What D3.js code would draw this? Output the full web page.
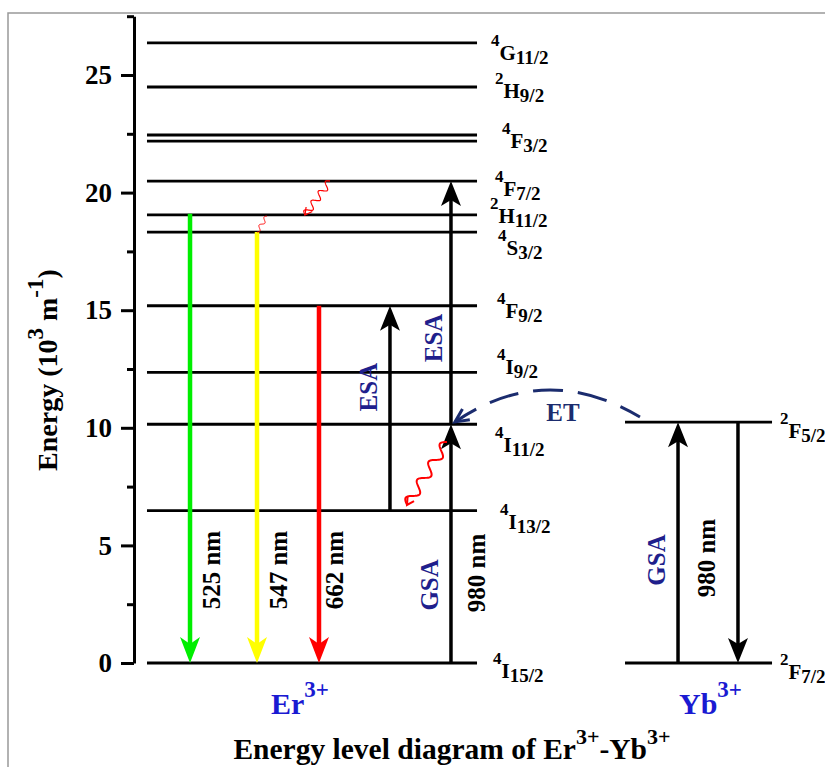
<!DOCTYPE html>
<html>
<head>
<meta charset="utf-8">
<script src="https://cdn.jsdelivr.net/npm/d3@7"></script>
<style>
  body { margin: 0; background: #fff; }
  svg { display: block; }
</style>
</head>
<body>
<svg id="chart" width="825" height="767"></svg>
<script>
// Er3+ levels: [multiplicity, term, J] and energy (10^3 cm^-1 as labelled)
const erTerms = [["4","I","15/2"],["4","I","13/2"],["4","I","11/2"],["4","I","9/2"],["4","F","9/2"],
                 ["4","S","3/2"],["2","H","11/2"],["4","F","7/2"],["4","F","3/2"],["2","H","9/2"],["4","G","11/2"]];
const erEnergy = [0, 6.48, 10.15, 12.36, 15.19, 18.32, 19.05, 20.49, 22.19, 24.49, 26.37];
const erDoublet = [22.45];                 // second line of the 4F3/2 pair
const ybTerms = [["2","F","7/2"],["2","F","5/2"]];
const ybEnergy = [0, 10.24];

// radiative emissions (down arrows)
const emisName = ["525 nm", "547 nm", "662 nm"];
const emisFrom = [19.1, 18.32, 15.19];
const emisX = [8.54, 18.75, 28.2];
const emisColor = ["#00ee00", "#ffff00", "#ff0000"];

// absorption / transfer arrows (black)
const pumpFrom = [0, 6.48, 10.15, 0, 10.24];
const pumpTo = [10.15, 15.19, 20.49, 10.24, 0];
const pumpX = [48.32, 39.02, 48.32, 82.93, 92.07];

// non-radiative relaxations (wavy)
const relaxX0 = [29.88, 20.27, 47.71];
const relaxE0 = [20.49, 19.0, 9.4];
const relaxX1 = [26.07, 18.75, 41.62];
const relaxE1 = [19.05, 18.32, 6.72];

// ET curve: start, control, end
const etX = [77.13, 62.65, 48.93];
const etE = [10.46, 12.86, 10.25];

// rotated tags
const tagText = ["525 nm", "547 nm", "662 nm", "GSA", "980 nm", "ESA", "ESA", "GSA", "980 nm"];
const tagX = [13.11, 23.32, 31.86, 46.34, 53.51, 37.04, 46.95, 80.95, 88.57];
const tagE = [3.95, 3.95, 3.95, 3.32, 3.83, 11.73, 13.82, 4.38, 4.46];
const tagBlue = [false, false, false, true, false, true, true, true, false];

const majorTicks = [0, 5, 10, 15, 20, 25];
const minorTicks = [2.5, 7.5, 12.5, 17.5, 22.5, 27.5];

const erSpan = [1.98, 52.29];
const ybSpan = [74.85, 97.26];

const FONT = "'Liberation Serif', 'Times New Roman', serif";
const NAVY = "#1f1f8c";

const svg = d3.select("#chart");
svg.append("rect").attr("x", 8).attr("y", 13).attr("width", 900).attr("height", 900)
    .attr("fill", "none").attr("stroke", "#999").attr("stroke-width", 1.5);

const x = d3.scaleLinear().domain([0, 100]).range([134, 790]);
const y = d3.scaleLinear().domain([0, 27.5]).range([663, 16.2]);

// y axis
const axisG = svg.append("g").attr("transform", `translate(${x(0)},0)`);
axisG.call(d3.axisLeft(y).tickValues(majorTicks).tickSize(13).tickSizeOuter(0).tickPadding(9))
    .call(g => g.select(".domain").attr("stroke-width", 3))
    .call(g => g.selectAll(".tick line").attr("stroke-width", 3))
    .call(g => g.selectAll(".tick text").attr("font-family", FONT).attr("font-weight", "bold")
        .attr("font-size", 27).attr("fill", "#000"));
svg.append("g").attr("transform", `translate(${x(0)},0)`)
    .call(d3.axisLeft(y).tickValues(minorTicks).tickSize(7).tickFormat(""))
    .call(g => g.select(".domain").remove())
    .call(g => g.selectAll(".tick line").attr("stroke-width", 3));

svg.append("text")
    .attr("transform", `translate(57,370) rotate(-90)`)
    .attr("text-anchor", "middle").attr("font-family", FONT).attr("font-weight", "bold")
    .attr("font-size", 28)
    .call(t => {
        t.append("tspan").text("Energy (10");
        t.append("tspan").attr("dy", -14).attr("font-size", 23).text("3");
        t.append("tspan").attr("dy", 14).text(" m");
        t.append("tspan").attr("dy", -14).attr("font-size", 23).text("-1");
        t.append("tspan").attr("dy", 14).text(")");
    });

// level lines
const erLines = erEnergy.concat(erDoublet);
svg.append("g").selectAll("line").data(erLines).join("line")
    .attr("x1", x(erSpan[0])).attr("x2", x(erSpan[1]))
    .attr("y1", d => y(d)).attr("y2", d => y(d))
    .attr("stroke", "#000").attr("stroke-width", 2.8);
svg.append("g").selectAll("line").data(ybEnergy).join("line")
    .attr("x1", x(ybSpan[0])).attr("x2", x(ybSpan[1]))
    .attr("y1", d => y(d)).attr("y2", d => y(d))
    .attr("stroke", "#000").attr("stroke-width", 2.8);

// level labels: [dx from line end, dy from line]
const erNudge = [[16,15],[23,18],[18,28],[20,2],[20,12],[21,23],[13,8],[18,15],[25,7],[18,11],[14,17]];
const ybNudge = [[8,16],[8,16]];
function termLabel(g, term, px, py) {
    const t = g.append("text").attr("x", px).attr("y", py)
        .attr("font-family", FONT).attr("font-weight", "bold").attr("font-size", 21).attr("fill", "#000");
    t.append("tspan").attr("dy", -14).attr("font-size", 17).text(term[0]);
    t.append("tspan").attr("dy", 14).text(term[1]);
    t.append("tspan").attr("dy", 4).attr("font-size", 19).text(term[2]);
}
const labG = svg.append("g");
erTerms.forEach((t, i) => termLabel(labG, t, x(erSpan[1]) + erNudge[i][0], y(erEnergy[i]) + erNudge[i][1]));
ybTerms.forEach((t, i) => termLabel(labG, t, x(ybSpan[1]) + ybNudge[i][0], y(ybEnergy[i]) + ybNudge[i][1]));

// arrows
function arrow(g, xv, e0, e1, color, w, len, hw, notch) {
    const px = x(xv), y0 = y(e0), y1 = y(e1);
    const dir = y1 > y0 ? 1 : -1;
    g.append("line").attr("x1", px).attr("x2", px).attr("y1", y0).attr("y2", y1 - dir * (len - notch - 1))
        .attr("stroke", color).attr("stroke-width", w);
    g.append("path")
        .attr("d", `M${px},${y1} L${px - hw},${y1 - dir * len} L${px},${y1 - dir * (len - notch)} L${px + hw},${y1 - dir * len} Z`)
        .attr("fill", color);
}
const arrG = svg.append("g");
emisFrom.forEach((e, i) => arrow(arrG, emisX[i], e, 0, emisColor[i], 4.5, 26, 10, 7));
pumpFrom.forEach((e, i) => arrow(arrG, pumpX[i], e, pumpTo[i], "#000", 3.5, 25, 10, 6));

// wavy relaxations
const relaxWaves = [3.5, 2, 3.5], relaxAmp = [3.5, 2, 5], relaxW = [1.2, 1, 2], relaxHead = [true, false, true];
relaxX0.forEach((x0, i) => {
    const p0 = [x(x0), y(relaxE0[i])], p1 = [x(relaxX1[i]), y(relaxE1[i])];
    const dx = p1[0] - p0[0], dy = p1[1] - p0[1], L = Math.hypot(dx, dy);
    const ux = dx / L, uy = dy / L, nx = -uy, ny = ux;
    const pts = d3.range(0, 1.0001, 0.01).map(t => {
        const s = Math.sin(2 * Math.PI * relaxWaves[i] * t) * relaxAmp[i];
        return [p0[0] + dx * t + nx * s, p0[1] + dy * t + ny * s];
    });
    svg.append("path").attr("d", d3.line()(pts)).attr("fill", "none")
        .attr("stroke", "#ff0000").attr("stroke-width", relaxW[i]);
    if (relaxHead[i]) {
        const a = Math.atan2(uy, ux), hl = 8;
        const h1 = [p1[0] - hl * Math.cos(a - 0.5), p1[1] - hl * Math.sin(a - 0.5)];
        const h2 = [p1[0] - hl * Math.cos(a + 0.5), p1[1] - hl * Math.sin(a + 0.5)];
        svg.append("path").attr("d", d3.line()([h1, p1, h2])).attr("fill", "none")
            .attr("stroke", "#ff0000").attr("stroke-width", relaxW[i]);
    }
});

// energy transfer curve
const ET = "#1b2c6e";
const ep = d3.path();
ep.moveTo(x(etX[0]), y(etE[0]));
ep.quadraticCurveTo(x(etX[1]), y(etE[1]), x(etX[2]), y(etE[2]));
svg.append("path").attr("d", ep.toString()).attr("fill", "none").attr("stroke", ET)
    .attr("stroke-width", 3).attr("stroke-dasharray", "30,15").attr("stroke-dashoffset", 8);
{
    const tip = [x(etX[2]), y(etE[2])];
    const a = Math.atan2(tip[1] - y(etE[1]), tip[0] - x(etX[1]));
    const hl = 15;
    const h1 = [tip[0] - hl * Math.cos(a - 0.45), tip[1] - hl * Math.sin(a - 0.45)];
    const h2 = [tip[0] - hl * Math.cos(a + 0.45), tip[1] - hl * Math.sin(a + 0.45)];
    svg.append("path").attr("d", d3.line()([h1, tip, h2])).attr("fill", "none")
        .attr("stroke", ET).attr("stroke-width", 3);
}
svg.append("text").attr("x", 563).attr("y", 421).attr("text-anchor", "middle")
    .attr("font-family", FONT).attr("font-weight", "bold").attr("font-size", 25).attr("fill", ET).text("ET");

// rotated tags
svg.append("g").selectAll("text").data(tagText).join("text")
    .attr("transform", (d, i) => `translate(${x(tagX[i])},${y(tagE[i])}) rotate(-90)`)
    .attr("text-anchor", "middle").attr("font-family", FONT).attr("font-weight", "bold")
    .attr("font-size", 25).attr("fill", (d, i) => tagBlue[i] ? NAVY : "#000")
    .text(d => d);

// ion names
const BLUE = "#1a1ad2";
function ion(px, py, name) {
    const t = svg.append("text").attr("x", px).attr("y", py).attr("font-family", FONT)
        .attr("font-weight", "bold").attr("font-size", 30).attr("fill", BLUE);
    t.append("tspan").text(name);
    t.append("tspan").attr("dy", -17).attr("font-size", 23).text("3+");
}
ion(271, 714, "Er");
ion(679, 714, "Yb");

// title
const title = svg.append("text").attr("x", 452).attr("y", 759).attr("text-anchor", "middle")
    .attr("font-family", FONT).attr("font-weight", "bold").attr("font-size", 29.5).attr("fill", "#000");
title.append("tspan").text("Energy level diagram of Er");
title.append("tspan").attr("dy", -15).attr("font-size", 22).text("3+");
title.append("tspan").attr("dy", 15).text("-Yb");
title.append("tspan").attr("dy", -15).attr("font-size", 22).text("3+");
</script>
</body>
</html>
